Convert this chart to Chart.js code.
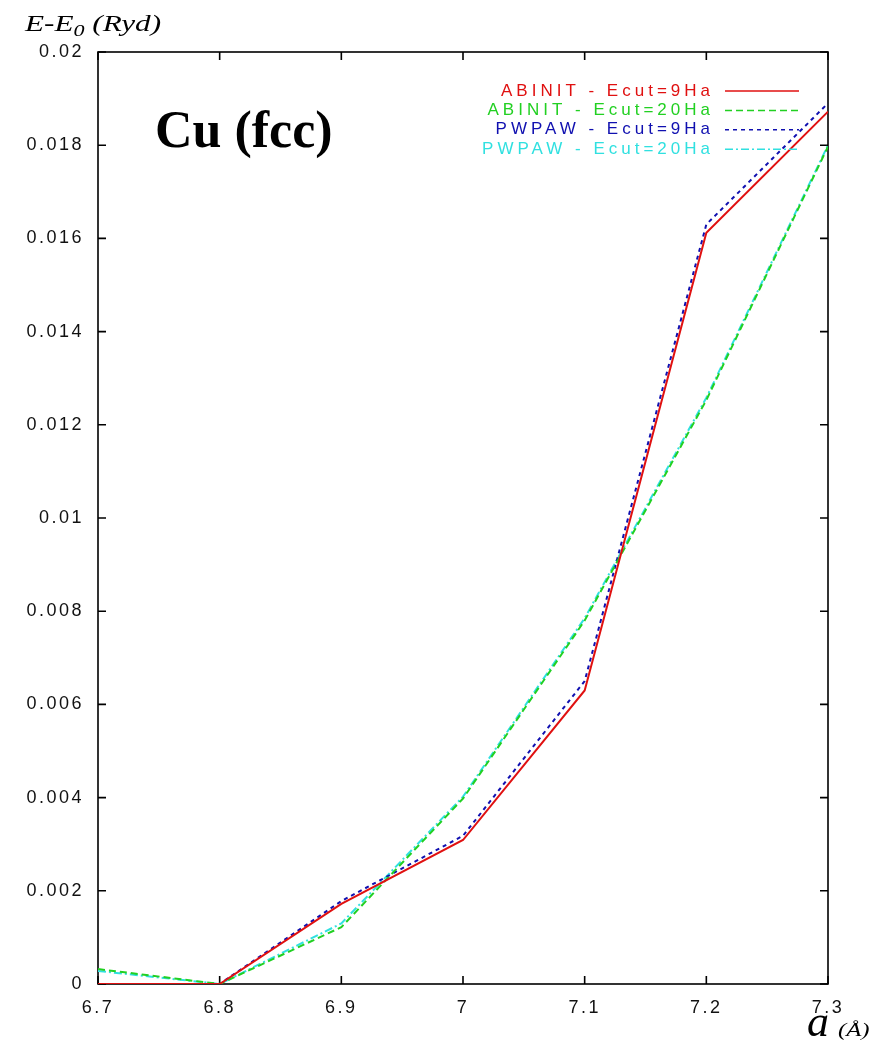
<!DOCTYPE html>
<html>
<head>
<meta charset="utf-8">
<script src="https://cdn.jsdelivr.net/npm/chart.js@4"></script>
<style>
  html, body { margin: 0; padding: 0; background: #fff; }
  #wrap { width: 886px; height: 1045px; position: relative; }
</style>
</head>
<body>
<div id="wrap"><canvas id="chart" width="886" height="1045"></canvas></div>
<script>
// --- DATA ---
const latticeA = [6.7, 6.8, 6.9, 7.0, 7.1, 7.2, 7.3];
const abinit9 = [0.0, 0.0, 0.00172, 0.00309, 0.0063, 0.01612, 0.01872];
const abinit20 = [0.00032, 0.0, 0.00122, 0.00398, 0.0078, 0.01253, 0.01797];
const pwpaw9 = [0.0, 0.0, 0.00178, 0.00318, 0.0065, 0.01630, 0.01890];
const pwpaw20 = [0.00028, 0.0, 0.00130, 0.00402, 0.00785, 0.01258, 0.01800];
const seriesNames = ["ABINIT - Ecut=9Ha", "ABINIT - Ecut=20Ha", "PWPAW - Ecut=9Ha", "PWPAW - Ecut=20Ha"];
const seriesColors = ["#e01010", "#22d022", "#1010b0", "#30e0e0"];
const seriesDash = [[], [7, 4], [4, 4], [8, 3, 2, 3]];

const pts = arr => arr.map((v, i) => ({ x: latticeA[i], y: v }));

// helper: draw text stretched horizontally (the original picture is wide)
function stretchText(ctx, txt, x, y, sx) {
  ctx.save();
  ctx.translate(x, y);
  ctx.scale(sx, 1);
  ctx.fillText(txt, 0, 0);
  const w = ctx.measureText(txt).width * sx;
  ctx.restore();
  return w;
}

// --- PLUGINS ---
const framePlugin = {
  id: "frame",
  beforeDraw(chart) {
    // wide gnuplot-like tick labels
    chart.ctx.letterSpacing = "2.5px";
  },
  beforeDatasetsDraw(chart) {
    // box + inward ticks under the curves
    const { ctx, chartArea: a, scales } = chart;
    ctx.save();
    ctx.strokeStyle = "#000";
    ctx.lineWidth = 1.6;
    ctx.strokeRect(a.left, a.top, a.right - a.left, a.bottom - a.top);
    const len = 8;
    ctx.beginPath();
    scales.x.ticks.forEach(t => {
      const px = scales.x.getPixelForValue(t.value);
      ctx.moveTo(px, a.bottom); ctx.lineTo(px, a.bottom - len);
      ctx.moveTo(px, a.top); ctx.lineTo(px, a.top + len);
    });
    scales.y.ticks.forEach(t => {
      const py = scales.y.getPixelForValue(t.value);
      ctx.moveTo(a.left, py); ctx.lineTo(a.left + len, py);
      ctx.moveTo(a.right, py); ctx.lineTo(a.right - len, py);
    });
    ctx.stroke();
    ctx.restore();
  },
  afterDraw(chart) {
    const { ctx } = chart;
    ctx.save();
    // legend: text right aligned, sample to the right
    ctx.font = "17px 'Liberation Sans', Arial, sans-serif";
    ctx.letterSpacing = "4px";
    ctx.textAlign = "right";
    ctx.textBaseline = "middle";
    seriesNames.forEach((name, i) => {
      const y = 91 + i * 19.4;
      ctx.fillStyle = seriesColors[i];
      ctx.fillText(name, 714, y);
      ctx.beginPath();
      ctx.strokeStyle = seriesColors[i];
      ctx.lineWidth = 1.5;
      ctx.setLineDash(seriesDash[i]);
      ctx.moveTo(725, y); ctx.lineTo(799, y);
      ctx.stroke();
    });
    ctx.setLineDash([]);
    ctx.letterSpacing = "0px";

    // title
    ctx.fillStyle = "#000";
    ctx.textAlign = "left";
    ctx.textBaseline = "alphabetic";
    ctx.font = "bold 52px 'Liberation Serif', 'Times New Roman', serif";
    ctx.fillText("Cu (fcc)", 155, 147);

    // y axis title E-E0 (Ryd)
    const serifI = sz => "italic " + sz + "px 'Liberation Serif', 'Times New Roman', serif";
    const sx = 1.3;
    let x = 25;
    ctx.font = serifI(24);
    x += stretchText(ctx, "E-E", x, 31, sx);
    ctx.font = serifI(17);
    x += stretchText(ctx, "0", x, 36, sx);
    ctx.font = serifI(24);
    stretchText(ctx, " (Ryd)", x, 31, sx);

    // x axis title a (Å)
    ctx.font = serifI(44);
    stretchText(ctx, "a", 807, 1036, 1.0);
    ctx.font = serifI(19);
    stretchText(ctx, "(Å)", 838, 1036, 1.3);
    ctx.restore();
  }
};

// --- CHART ---
new Chart(document.getElementById("chart"), {
  type: "line",
  data: {
    datasets: [abinit9, abinit20, pwpaw9, pwpaw20].map((d, i) => ({
      label: seriesNames[i],
      data: pts(d),
      borderColor: seriesColors[i],
      borderWidth: 2,
      borderDash: seriesDash[i],
      pointRadius: 0,
      tension: 0,
      fill: false
    }))
  },
  options: {
    responsive: false,
    animation: false,
    layout: { padding: { left: 4, top: 52, right: 58, bottom: 31 } },
    plugins: { legend: { display: false }, tooltip: { enabled: false } },
    scales: {
      x: {
        type: "linear",
        min: 6.7, max: 7.3,
        grid: { display: false, drawTicks: false },
        border: { display: false },
        afterFit: s => { s.height = 30; },
        ticks: {
          stepSize: 0.1,
          padding: 13,
          color: "#111",
          font: { family: "'Liberation Sans', Arial, sans-serif", size: 18 },
          callback: v => String(Math.round(v * 10) / 10)
        }
      },
      y: {
        min: 0, max: 0.02,
        grid: { display: false, drawTicks: false },
        border: { display: false },
        afterFit: s => { s.width = 94; },
        ticks: {
          stepSize: 0.002,
          padding: 14,
          color: "#111",
          font: { family: "'Liberation Sans', Arial, sans-serif", size: 18 },
          callback: v => String(Math.round(v * 1000) / 1000)
        }
      }
    }
  },
  plugins: [framePlugin]
});
</script>
</body>
</html>
